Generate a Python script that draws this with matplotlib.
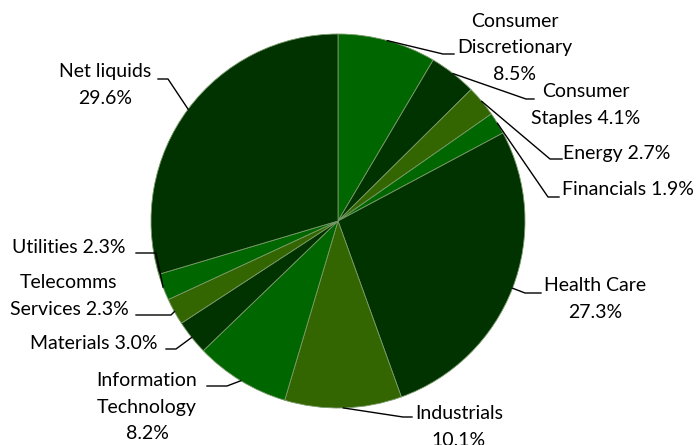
import numpy as np
import matplotlib
matplotlib.use("Agg")
import matplotlib.pyplot as plt
from matplotlib import font_manager

# Sector weights (%), clockwise from 12 o'clock
sectors = ["Consumer\nDiscretionary", "Consumer\nStaples", "Energy", "Financials",
           "Health Care", "Industrials", "Information\nTechnology", "Materials",
           "Telecomms\nServices", "Utilities", "Net liquids"]
weights = [8.5, 4.1, 2.7, 1.9, 27.3, 10.1, 8.2, 3.0, 2.3, 2.3, 29.6]
label_fmt = ["{}\n{:.1f}%", "{} {:.1f}%", "{} {:.1f}%", "{} {:.1f}%",
             "{}\n{:.1f}%", "{}\n{:.1f}%", "{}\n{:.1f}%", "{} {:.1f}%",
             "{} {:.1f}%", "{} {:.1f}%", "{}\n{:.1f}%"]

palette = ["#006600", "#003300", "#336600"]
colors = [palette[i % 3] for i in range(len(weights))]

# label layout in pixels: text centre, elbow point, end of horizontal stub
W, H = 697, 445
CX, CY, R = 338, 221, 187
layout = [
    ((515, 48), (443, 54), (454, 54)),
    ((586, 105), (526, 99), (534, 99)),
    ((617, 153), (550, 159), (562, 159)),
    ((628, 189), (548, 197), (559, 197)),
    ((595, 299), (525, 293), (541, 293)),
    ((459, 427), (403, 417), (412, 417)),
    ((147, 407), (227, 386), (207, 386)),
    ((94, 343), (176, 349), (166, 349)),
    ((69, 296), (171, 315), (136, 315)),
    ((69, 247), (156, 253), (136, 253)),
    ((105, 85), (168, 79), (158, 79)),
]

def px(p):
    return ((p[0] - CX) / R, (CY - p[1]) / R)

names = {f.name for f in font_manager.fontManager.ttflist}
fam = next((f for f in ["Liberation Sans Narrow", "Lato", "Roboto"] if f in names), "DejaVu Sans")
plt.rcParams['font.family'] = [fam, 'DejaVu Sans']
fsize = 15 if fam == "Liberation Sans Narrow" else 14

fig = plt.figure(figsize=(W / 100, H / 100), dpi=100)
ax = fig.add_axes([0, 0, 1, 1])
wedges, _ = ax.pie(weights, colors=colors, startangle=90, counterclock=False,
                   radius=1, center=(0, 0),
                   wedgeprops=dict(edgecolor="#7a9a6a", linewidth=0.6))

for w, name, val, fmt, (tc, el, st) in zip(wedges, sectors, weights, label_fmt, layout):
    mid = np.deg2rad((w.theta1 + w.theta2) / 2)
    anchor = (np.cos(mid), np.sin(mid))
    e, s = px(el), px(st)
    ax.plot([anchor[0], e[0], s[0]], [anchor[1], e[1], s[1]], color="black", lw=1)
    t = px(tc)
    ax.text(t[0], t[1], fmt.format(name, val), ha="center", va="center",
            fontsize=fsize, linespacing=1.65, color="black")

ax.set_xlim(-CX / R, (W - CX) / R)
ax.set_ylim(-(H - CY) / R, CY / R)
ax.set_aspect("auto")
ax.axis("off")
fig.savefig("out.png", dpi=100)
